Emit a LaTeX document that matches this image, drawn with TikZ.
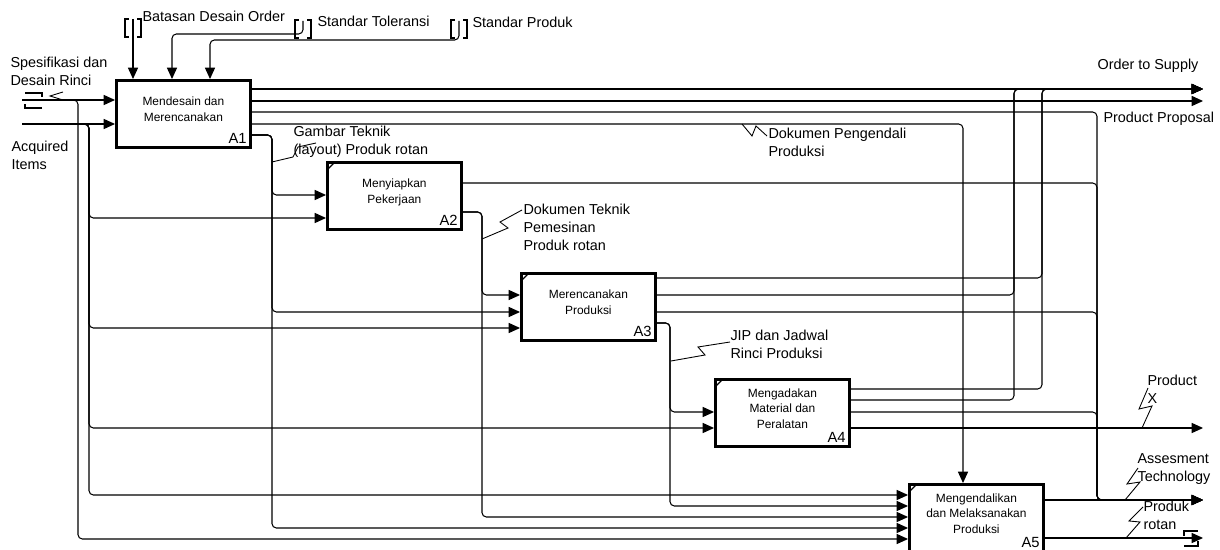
\documentclass[tikz,border=0pt]{standalone}
\usepackage{fontspec}
\setmainfont{Liberation Sans}
\usetikzlibrary{arrows.meta, positioning, calc}
\tikzset{
  every picture/.style={line width=0.6pt},
  proc/.style={draw, line width=1.6pt, minimum width=2.68cm, minimum height=1.34cm, align=center, inner sep=2pt, text depth=5pt, font=\fontsize{6.8}{9}\selectfont},
  idx/.style={font=\fontsize{8.4}{9}\selectfont, inner sep=2.6pt},
  flow/.style={-{Triangle[length=6.5pt, width=5.8pt]}, rounded corners=2.5pt},
  lbl/.style={font=\fontsize{8.2}{10.2}\selectfont, align=left, inner sep=0pt},
  zig/.style={line width=0.5pt},
  tunv/.pic={\draw (-4,-9) -- (-8,-9) -- (-8,9) -- (-4,9) (4,-9) -- (8,-9) -- (8,9) -- (4,9);},
}
\begin{document}
\begin{tikzpicture}[x=0.02cm, y=-0.02cm]
  \useasboundingbox (0,0) rectangle (1220,550);
  \node[proc, anchor=north west, label={[idx, anchor=south east]south east:A1}] (a1) at (115,79) {Mendesain dan\\Merencanakan};
  \node[proc, anchor=north west, label={[idx, anchor=south east]south east:A2}] (a2) at (326,161) {Menyiapkan\\Pekerjaan};
  \node[proc, anchor=north west, label={[idx, anchor=south east]south east:A3}] (a3) at (520,272) {Merencanakan\\Produksi};
  \node[proc, anchor=north west, label={[idx, anchor=south east]south east:A4}] (a4) at (714,378) {Mengadakan\\Material dan\\Peralatan};
  \node[proc, anchor=north west, label={[idx, anchor=south east]south east:A5}] (a5) at (908,483) {Mengendalikan\\dan Melaksanakan\\Produksi};
  \foreach \b in {a2,a3,a4,a5} \draw[line width=0.7pt] (\b.north west) ++(1,9) -- ++(8,-8);
  % inputs
  \coordinate (iSpe) at (22,100);
  \coordinate (iAcq) at (22,124);
  \draw[flow] (iSpe) -- (a1.west |- iSpe);
  \draw[flow] (iSpe) -| (78,539) -- (a5.west |- 0,539);
  \draw[flow] (iAcq) -- (a1.west |- iAcq);
  \foreach \t/\y in {a2/218, a3/328, a4/428, a5/495}
    \draw[flow] (iAcq) -| (89,\y) -- (\t.west |- 0,\y);
  \draw (25,93) -- (42,93) -- (42,97) (42,108) -- (25,108) -- (25,104);
  \draw[zig] (63,92) -- (50,96) -- (63,100);
  \node[lbl, anchor=west] (lSpe) at (10,71) {Spesifikasi dan\\Desain Rinci};
  \node[lbl, anchor=west] (lAcq) at (11,155) {Acquired\\Items};
  % controls
  \coordinate (cBat) at (133,19);
  \coordinate (cTol) at (303,21);
  \coordinate (cPrd) at (459,21);
  \draw[flow] (cBat) -- (a1.north -| cBat);
  \draw[flow] (cTol) |- (172,34) -- (a1.north -| 172,0);
  \draw[flow] (cPrd) |- (210,40) -- (a1.north -| 210,0);
  \pic at (133,28) {tunv};
  \pic at (303,29) {tunv};
  \pic at (459,29) {tunv};
  \node[lbl, anchor=west] (lBat) at (142,16) {Batasan Desain Order};
  \node[lbl, anchor=west] (lTol) at (317,21) {Standar Toleransi};
  \node[lbl, anchor=west] (lPrd) at (472,22) {Standar Produk};
  % outputs
  \coordinate (oOrd) at (1203,89);
  \coordinate (oOrd2) at (1203,101);
  \coordinate (oPro) at (1203,428);
  \coordinate (oAss) at (1203,500);
  \coordinate (oRot) at (1203,538);
  \draw[flow] (a1.east |- oOrd) -- (oOrd);
  \draw[flow] (a1.east |- oOrd2) -- (oOrd2);
  \draw[flow] (a1.east |- 0,112) -| (1097,500) -- (oAss);
  \draw[flow] (a1.east |- 0,124) -| (a5.north -| 963,0);
  \foreach \t/\y in {a2/195, a3/312, a5/528}
    \draw[flow] (a1.east |- 0,135) -| (272,\y) -- (\t.west |- 0,\y);
  \draw[flow] (a2.east |- 0,183) -| (1097,500) -- (oAss);
  \foreach \t/\y in {a3/295, a5/517}
    \draw[flow] (a2.east |- 0,212) -| (482,\y) -- (\t.west |- 0,\y);
  \draw[flow] (a3.east |- 0,278) -| (1042,89) -- (oOrd);
  \draw[flow] (a3.east |- 0,295) -| (1014,89) -- (oOrd);
  \draw[flow] (a3.east |- 0,312) -| (1097,500) -- (oAss);
  \foreach \t/\y in {a4/412, a5/506}
    \draw[flow] (a3.east |- 0,323) -| (670,\y) -- (\t.west |- 0,\y);
  \draw[flow] (a4.east |- 0,389) -| (1042,89) -- (oOrd);
  \draw[flow] (a4.east |- 0,400) -| (1014,89) -- (oOrd);
  \draw[flow] (a4.east |- 0,412) -| (1097,500) -- (oAss);
  \draw[flow] (a4.east |- oPro) -- (oPro);
  \draw[flow] (a5.east |- oAss) -- (oAss);
  \draw[flow] (a5.east |- oRot) -- (oRot);
  \draw (1184,536) -- (1184,531) -- (1198,531) (1184,546) -- (1198,546) -- (1198,541);
  % labels
  \node[lbl, anchor=west] (lOrd) at (1097,66) {Order to Supply};
  \node[lbl, anchor=west] (lPP) at (1103,119) {Product Proposal};
  \node[lbl, anchor=west] (lDok) at (768,142) {Dokumen Pengendali\\Produksi};
  \node[lbl, anchor=west] (lGam) at (293,142) {Gambar Teknik\\(layout) Produk rotan};
  \node[lbl, anchor=west] (lTek) at (523,227) {Dokumen Teknik\\Pemesinan\\Produk rotan};
  \node[lbl, anchor=west] (lJip) at (730,344) {JIP dan Jadwal\\Rinci Produksi};
  \node[lbl, anchor=west] (lPro) at (1147,389) {Product\\X};
  \node[lbl, anchor=west] (lAss) at (1137,469) {Assesment\\Technology};
  \node[lbl, anchor=west] (lRot) at (1143,515) {Produk\\rotan};
  \draw[zig] (742,124) -- (752,136) -- (756,126) -- (767,136);
  \draw[zig] (272,162) -- (293,157) -- (298,147) -- (316,143);
  \draw[zig] (482,239) -- (508,228) -- (500,222) -- (522,210);
  \draw[zig] (671,361) -- (705,355) -- (698,347) -- (730,342);
  \draw[zig] (1142,428) -- (1152,406) -- (1139,409) -- (1148,388);
  \draw[zig] (1125,500) -- (1140,482) -- (1127,484) -- (1138,468);
  \draw[zig] (1126,538) -- (1140,522) -- (1129,521) -- (1143,507);
\end{tikzpicture}
\end{document}
